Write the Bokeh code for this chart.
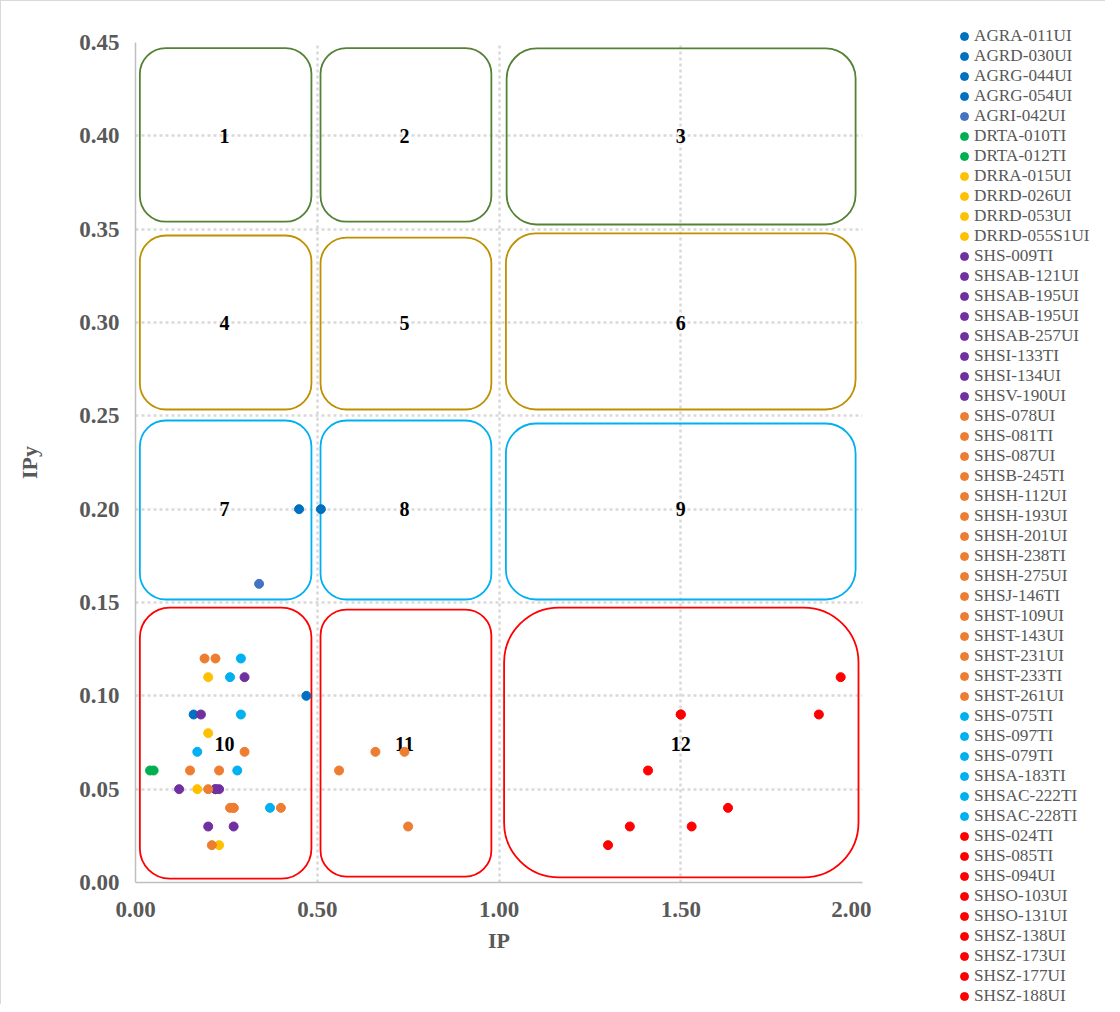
from bokeh.plotting import figure
from bokeh.layouts import row
from bokeh.models import Legend, LegendItem, FixedTicker, NumeralTickFormatter, Range1d
from bokeh.core.properties import value
from bokeh.embed import file_html
from bokeh.resources import INLINE

# ---- data ----
names = ["AGRA-011UI", "AGRD-030UI", "AGRG-044UI", "AGRG-054UI", "AGRI-042UI",
         "DRTA-010TI", "DRTA-012TI",
         "DRRA-015UI", "DRRD-026UI", "DRRD-053UI", "DRRD-055S1UI",
         "SHS-009TI", "SHSAB-121UI", "SHSAB-195UI", "SHSAB-195UI", "SHSAB-257UI",
         "SHSI-133TI", "SHSI-134UI", "SHSV-190UI",
         "SHS-078UI", "SHS-081TI", "SHS-087UI", "SHSB-245TI", "SHSH-112UI", "SHSH-193UI",
         "SHSH-201UI", "SHSH-238TI", "SHSH-275UI", "SHSJ-146TI", "SHST-109UI", "SHST-143UI",
         "SHST-231UI", "SHST-233TI", "SHST-261UI",
         "SHS-075TI", "SHS-097TI", "SHS-079TI", "SHSA-183TI", "SHSAC-222TI", "SHSAC-228TI",
         "SHS-024TI", "SHS-085TI", "SHS-094UI", "SHSO-103UI", "SHSO-131UI", "SHSZ-138UI",
         "SHSZ-173UI", "SHSZ-177UI", "SHSZ-188UI"]

colors = (["#0070C0"] * 4 + ["#4472C4"] + ["#00B050"] * 2 + ["#FFC000"] * 4 +
          ["#7030A0"] * 8 + ["#ED7D31"] * 15 + ["#00B0F0"] * 6 + ["#FF0000"] * 9)

ip = [0.45, 0.51, 0.47, 0.16, 0.34,
      0.04, 0.05,
      0.20, 0.20, 0.17, 0.23,
      0.30, 0.18, 0.12, 0.22, 0.23, 0.20, 0.27, 0.22,
      0.19, 0.22, 0.30, 0.15, 0.23, 0.20, 0.26, 0.27, 0.40, 0.21, 0.56, 0.66, 0.74, 0.75, 0.27,
      0.29, 0.26, 0.29, 0.17, 0.28, 0.37,
      1.94, 1.50, 1.88, 1.41, 1.63, 1.36, 1.53, 1.30, 1.50]

ipy = [0.20, 0.20, 0.10, 0.09, 0.16,
       0.06, 0.06,
       0.11, 0.08, 0.05, 0.02,
       0.11, 0.09, 0.05, 0.05, 0.05, 0.03, 0.03, 0.05,
       0.12, 0.12, 0.07, 0.06, 0.06, 0.05, 0.04, 0.04, 0.04, 0.02, 0.06, 0.07, 0.07, 0.03, 0.04,
       0.12, 0.11, 0.09, 0.07, 0.06, 0.04,
       0.11, 0.09, 0.09, 0.06, 0.04, 0.03, 0.03, 0.02, 0.09]

x_ticks = [0.0, 0.5, 1.0, 1.5, 2.0]
y_ticks = [0.0, 0.05, 0.10, 0.15, 0.20, 0.25, 0.30, 0.35, 0.40, 0.45]

zone_labels = ["1", "2", "3", "4", "5", "6", "7", "8", "9", "10", "11", "12"]
zone_x = [0.245, 0.74, 1.50] * 4
zone_y = [0.40] * 3 + [0.30] * 3 + [0.20] * 3 + [0.074] * 3

box_left = [0.012, 0.509, 1.021, 0.012, 0.509, 1.019, 0.012, 0.509, 1.019, 0.012, 0.509, 1.014]
box_right = [0.484, 0.979, 1.981, 0.484, 0.979, 1.981, 0.484, 0.979, 1.981, 0.484, 0.979, 1.989]
box_bottom = [0.354, 0.354, 0.3525, 0.2534, 0.2534, 0.2534, 0.1516, 0.1516, 0.1516, 0.0021, 0.0032, 0.0027]
box_top = [0.447, 0.447, 0.4468, 0.3466, 0.3455, 0.3477, 0.2475, 0.2475, 0.2459, 0.1473, 0.1462, 0.1473]
box_color = ["#548235"] * 3 + ["#BF9000"] * 3 + ["#00B0F0"] * 3 + ["#FF0000"] * 3
box_radius = [26, 26, 30, 26, 26, 30, 26, 26, 30, 30, 26, 55]

SERIF = "Liberation Serif"
GREY = "#595959"
H = 1003

p = figure(width=870, height=H, output_backend="svg", toolbar_location=None,
           x_range=Range1d(0, 2.0), y_range=Range1d(0, 0.45),
           min_border_left=134, min_border_right=9, min_border_top=41, min_border_bottom=H - 41 - 840)
p.outline_line_color = None

for ax, ticks in ((p.xaxis[0], x_ticks), (p.yaxis[0], y_ticks)):
    ax.ticker = FixedTicker(ticks=ticks)
    ax.formatter = NumeralTickFormatter(format="0.00")
    ax.major_tick_line_color = None
    ax.minor_tick_line_color = None
    ax.axis_line_color = "#BFBFBF"
    ax.axis_line_width = 1.5
    ax.major_label_text_font = SERIF
    ax.major_label_text_font_style = "bold"
    ax.major_label_text_font_size = "23px"
    ax.major_label_text_color = GREY
    ax.axis_label_text_font = SERIF
    ax.axis_label_text_font_style = "bold"
    ax.axis_label_text_font_size = "22px"
    ax.axis_label_text_color = GREY

p.xaxis.axis_label = "IP"
p.yaxis.axis_label = "IPy"
p.xaxis.major_label_standoff = 13
p.yaxis.major_label_standoff = 10
p.xaxis.axis_label_standoff = 8
p.yaxis.axis_label_standoff = 34

for g in (p.xgrid, p.ygrid):
    g.grid_line_color = "#D9D9D9"
    g.grid_line_dash = "3 3"
    g.grid_line_width = 2.5

for i in range(len(box_left)):
    p.quad(left=[box_left[i]], right=[box_right[i]], bottom=[box_bottom[i]], top=[box_top[i]],
           fill_color=None, line_color=box_color[i], line_width=1.8,
           border_radius=box_radius[i])

p.text(x=zone_x, y=zone_y, text=zone_labels, text_font=value(SERIF), text_font_style="bold",
       text_font_size="20px", text_color="black", text_align="center", text_baseline="middle")

for i in range(len(names)):
    p.scatter(x=[ip[i]], y=[ipy[i]], size=9, marker="circle",
              fill_color=colors[i], line_color=colors[i])

# ---- legend panel: own canvas whose frame covers it fully, so nothing is clipped ----
lp = figure(width=234, height=H, output_backend="svg", toolbar_location=None,
            x_range=Range1d(-1, 0), y_range=Range1d(0, 1),
            x_axis_location=None, y_axis_location=None, min_border=0)
lp.frame_align = False
lp.outline_line_color = None
lp.grid.visible = False

items = []
for i in range(len(names)):
    # same points as the chart; this canvas' x range keeps them out of view
    r = lp.scatter(x=[ip[i]], y=[ipy[i]], marker="circle", fill_color=colors[i], line_color=colors[i])
    items.append(LegendItem(label=names[i], renderers=[r]))

legend = Legend(items=items, location=(83, -2), padding=0, spacing=0, margin=0,
                glyph_width=20, glyph_height=20, label_height=20, label_standoff=0,
                label_text_font=SERIF, label_text_font_size="17.2px", label_text_color=GREY,
                background_fill_alpha=0, border_line_color=None)
lp.add_layout(legend)

layout = row(p, lp)
layout.styles = {"border-left": "1px solid #D9D9D9", "border-top": "1px solid #D9D9D9"}

open("out.html", "w").write(file_html(layout, INLINE))
